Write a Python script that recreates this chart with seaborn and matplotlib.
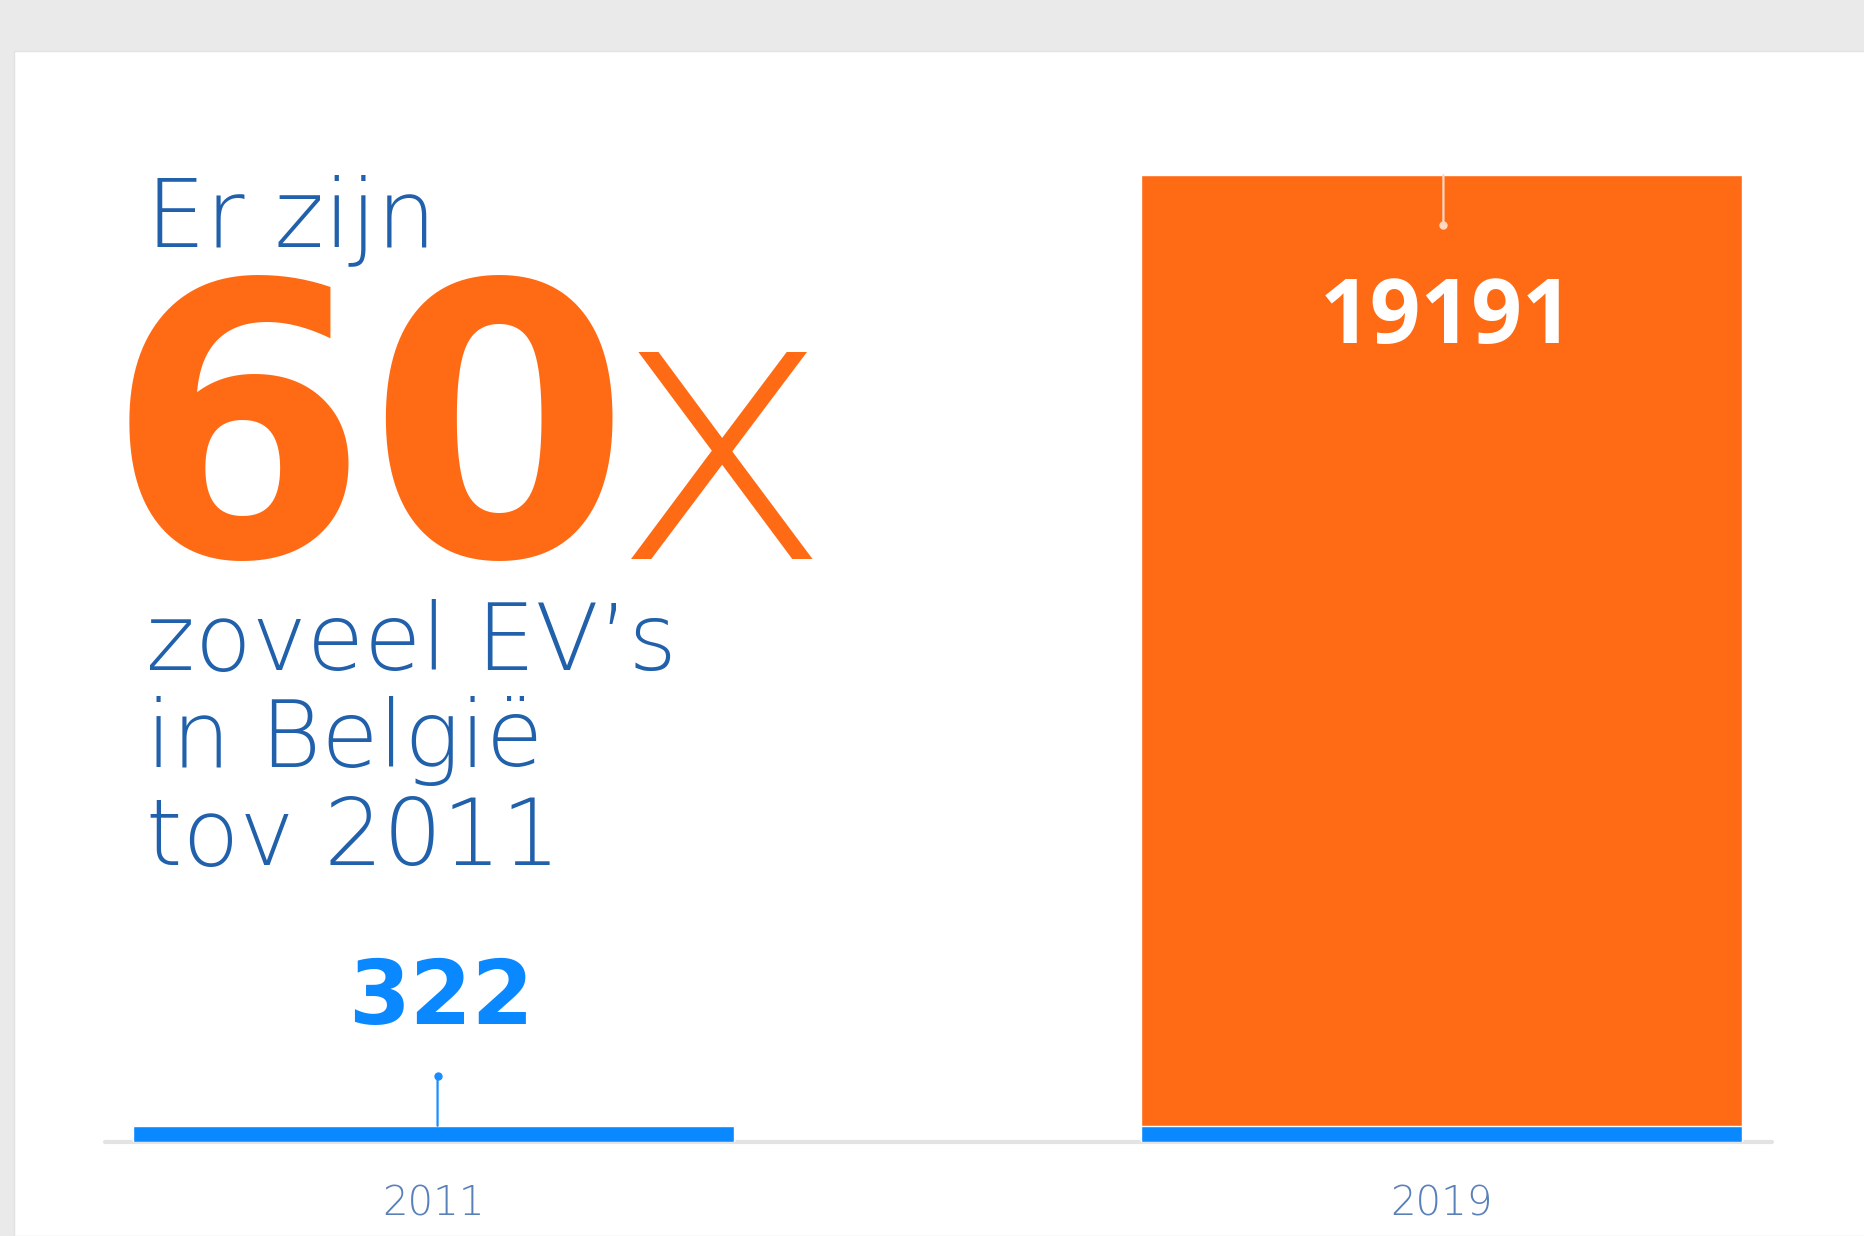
import matplotlib
matplotlib.use("Agg")
import matplotlib.pyplot as plt
import matplotlib.patches as mpatches
from matplotlib.transforms import offset_copy
import seaborn as sns
import pandas as pd

# data
years = ["2011", "2019"]
ev_count = [322, 19191]
base_level = [322, 322]  # 2011 level, shown at the bottom of every bar
label_text = ["322", "19191"]

headline_top = "Er zijn"
headline_big = "60"
headline_x = "x"
headline_rest = ["zoveel EV\u2019s", "in België", "tov 2011"]

ORANGE = "#ff6b15"
BLUE = "#0a88ff"
TEXT_BLUE = "#2160ab"
TICK_BLUE = "#5a80b8"
W, H = 1865, 1236

sns.set_theme(style="white")
plt.rcParams["font.family"] = ["DejaVu Sans"]

fig = plt.figure(figsize=(W / 100, H / 100), dpi=100, facecolor="#eaeaea")
fig.patches.append(mpatches.Rectangle((14 / W, 0), 1, 1 - 51 / H, transform=fig.transFigure,
                                      facecolor="white", edgecolor="#e2e2e2", lw=1, zorder=-5))

ax = fig.add_axes([105 / W, 1 - 1142 / H, 1667 / W, (1142 - 175) / H])
ax.set_facecolor("none")

df = pd.DataFrame({"year": years, "total": ev_count, "base": base_level})
sns.barplot(data=df, x="year", y="total", hue="year", palette=[BLUE, ORANGE],
            width=0.596, saturation=1, legend=False, ax=ax, zorder=2)
sns.barplot(data=df, x="year", y="base", color=BLUE, width=0.596, saturation=1, ax=ax, zorder=3)

ax.set_xlim(-0.326, 1.328)
ax.set_ylim(0, max(ev_count))
ax.axhline(0, color="#e3e3e3", lw=3, zorder=1, clip_on=False)

# leader lines with a small dot and the value labels
for i, (v, txt) in enumerate(zip(ev_count, label_text)):
    inside = v > 5000
    sign = -1 if inside else 1
    lcol = "#ffd8c2" if inside else "#1a8dff"
    dx = 2 if inside else 4
    base_tr = offset_copy(ax.transData, fig=fig, x=dx, y=0, units="dots")
    ax.annotate("", xy=(i, v), xycoords=base_tr, xytext=(0, sign * 50),
                textcoords="offset pixels",
                arrowprops=dict(arrowstyle="-", color=lcol, lw=1.6, shrinkA=0, shrinkB=0),
                zorder=4)
    dot_tr = offset_copy(ax.transData, fig=fig, x=dx, y=sign * 50, units="dots")
    ax.plot([i], [v], marker="o", ms=5, color=lcol, transform=dot_tr, zorder=5)
    ax.annotate(txt, xy=(i, v), xycoords=base_tr, xytext=(3, sign * (145 if inside else 126)),
                textcoords="offset pixels", ha="center", va="center",
                color="white" if inside else BLUE,
                fontsize=64, fontweight="bold",
                family=["Open Sans"] if inside else ["DejaVu Sans"],
                zorder=5)

sns.despine(ax=ax, left=True, bottom=True)
ax.set_xlabel("")
ax.set_ylabel("")
ax.set_yticks([])
ax.tick_params(axis="x", length=0, pad=30.5, labelsize=29, labelcolor=TICK_BLUE)
for t in ax.get_xticklabels():
    t.set_fontweight(200)

# headline text on the left
def ftext(x, y, s, **kw):
    fig.text(x / W, 1 - y / H, s, va="baseline", ha="left", **kw)

ftext(146, 246, headline_top, fontsize=68, color=TEXT_BLUE, fontweight=200)
ftext(106, 556, headline_big, fontsize=272, color=ORANGE, fontweight="bold")
ftext(610, 559, headline_x, fontsize=272, color=ORANGE, fontweight=200)
for k, line in enumerate(headline_rest):
    ftext(146, 670 + k * 97.5, line, fontsize=67, color=TEXT_BLUE, fontweight=200)

fig.savefig("out.png", dpi=100, facecolor=fig.get_facecolor())
